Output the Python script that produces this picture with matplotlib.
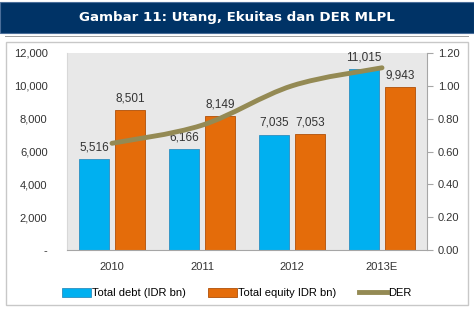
import numpy as np
import matplotlib.pyplot as plt
from matplotlib.path import Path
from matplotlib.patches import PathPatch, Rectangle

years = ["2010", "2011", "2012", "2013E"]
debt = [5516, 6166, 7035, 11015]
equity = [8501, 8149, 7053, 9943]
der = [0.65, 0.76, 1.00, 1.11]

blue = "#00B0F0"
orange = "#E46C0A"
olive = "#948A54"

fig = plt.figure(figsize=(4.74, 3.09), dpi=100)
plt.rcParams["font.family"] = ["Liberation Sans", "DejaVu Sans"]

# title bar
fig.patches.append(Rectangle((0.0, 1 - 33 / 309), 1.0, 31 / 309, transform=fig.transFigure,
                             facecolor="#003366", edgecolor="#4A6E9A", lw=0.8))
fig.patches.append(Rectangle((0.01, 1 - 37 / 309), 0.98, 1.5 / 309, transform=fig.transFigure,
                             facecolor="#A0A0A0", edgecolor="none"))
fig.patches.append(Rectangle((6 / 474, 4 / 309), 462 / 474, 263 / 309, transform=fig.transFigure,
                             facecolor="none", edgecolor="#C8C8C8", lw=1))
fig.text(0.5, 1 - 18 / 309, "Gambar 11: Utang, Ekuitas dan DER MLPL", color="white",
         fontsize=9.6, fontweight="bold", ha="center", va="center", family="DejaVu Sans")

ax = fig.add_axes([67 / 474, 1 - 250 / 309, 360 / 474, 197 / 309])
ax.set_facecolor("#E8E8E8")
x = np.arange(len(years))
w = 0.33
b1 = ax.bar(x - 0.2, debt, w, color=blue, edgecolor="#2C8FC0", lw=0.6)
b2 = ax.bar(x + 0.2, equity, w, color=orange, edgecolor="#B05008", lw=0.6)
for rect, v in zip(list(b1) + list(b2), debt + equity):
    ax.text(rect.get_x() + rect.get_width() / 2, v + 350, f"{v:,}", ha="center", va="bottom",
            fontsize=8.5, color="#333333")
ax.set_xlim(-0.5, 3.5)
ax.set_ylim(0, 12000)
ax.set_yticks(range(0, 12001, 2000))
ax.set_yticklabels(["-"] + [f"{v:,}" for v in range(2000, 12001, 2000)])
ax.set_xticks(x)
ax.set_xticklabels(years)
ax.tick_params(length=0, labelsize=8, colors="#333333", pad=9)
ax.tick_params(axis="y", pad=14)
for s in ["top", "right"]:
    ax.spines[s].set_visible(False)
ax.spines["left"].set_color("#D8D8D8")
ax.spines["bottom"].set_color("#A6A6A6")

ax2 = ax.twinx()
ax2.set_ylim(0, 1.2)
ax2.set_yticks(np.arange(0, 1.21, 0.2))
ax2.set_yticklabels([f"{v:.2f}" for v in np.arange(0, 1.21, 0.2)])
ax2.tick_params(labelsize=8, colors="#333333", length=4, direction="out")
ax2.tick_params(axis="y", color="#A6A6A6", pad=4)
for s in ["top", "left", "bottom"]:
    ax2.spines[s].set_visible(False)
ax2.spines["right"].set_color("#A6A6A6")

# smooth DER line (Catmull-Rom as Bezier segments)
pts = np.column_stack([x, der]).astype(float)
verts = [tuple(pts[0])]
codes = [Path.MOVETO]
n = len(pts)
for i in range(n - 1):
    p0 = pts[i - 1] if i > 0 else pts[i]
    p1, p2 = pts[i], pts[i + 1]
    p3 = pts[i + 2] if i + 2 < n else pts[i + 1]
    c1 = p1 + (p2 - p0) / 6
    c2 = p2 - (p3 - p1) / 6
    verts += [tuple(c1), tuple(c2), tuple(p2)]
    codes += [Path.CURVE4] * 3
ax2.add_patch(PathPatch(Path(verts, codes), facecolor="none", edgecolor=olive, lw=3.5,
                        capstyle="round"))
line, = ax2.plot([], [], color=olive, lw=3.5)

fig.legend([b1, b2, line], ["Total debt (IDR bn)", "Total equity IDR bn)", "DER"],
           loc="center", bbox_to_anchor=(0.5, 1 - 293 / 309), ncol=3, frameon=False,
           fontsize=8, handlelength=2.6, handleheight=0.9, columnspacing=2.0, handletextpad=0.1)

fig.savefig("out.png", dpi=100)
